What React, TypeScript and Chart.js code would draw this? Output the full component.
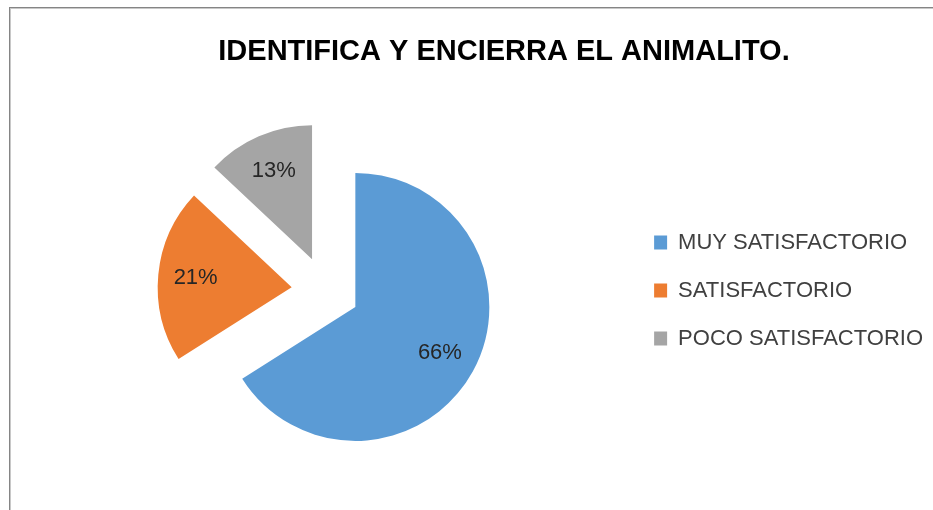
import React, { useEffect, useRef } from "react";
import { Chart, registerables } from "chart.js";

Chart.register(...registerables);

const TITLE = "IDENTIFICA Y ENCIERRA EL ANIMALITO.";
const categories = ["MUY SATISFACTORIO", "SATISFACTORIO", "POCO SATISFACTORIO"];
const values = [66, 21, 13];
const colors = ["#5B9BD5", "#ED7D31", "#A5A5A5"];

const EXPLODE = 34;
const LABEL_FRACTION = 0.72;
const TEXT_FONT = "'Liberation Sans', Arial, sans-serif";

// Draws each slice pushed outward along its bisector (Excel-style "exploded" pie).
const explodePlugin = {
  id: "explodeSlices",
  beforeDatasetDraw(chart: any, args: any) {
    const ctx = chart.ctx;
    args.meta.data.forEach((arc: any) => {
      const mid = (arc.startAngle + arc.endAngle) / 2;
      ctx.save();
      ctx.translate(Math.cos(mid) * EXPLODE, Math.sin(mid) * EXPLODE);
      arc.draw(ctx);
      ctx.restore();
    });
    return false;
  },
};

const labelPlugin = {
  id: "sliceLabels",
  afterDatasetsDraw(chart: any) {
    const ctx = chart.ctx;
    const meta = chart.getDatasetMeta(0);
    const data = chart.data.datasets[0].data;
    ctx.save();
    ctx.font = `22px ${TEXT_FONT}`;
    ctx.fillStyle = "#262626";
    ctx.textAlign = "center";
    ctx.textBaseline = "middle";
    meta.data.forEach((arc: any, i: number) => {
      const mid = (arc.startAngle + arc.endAngle) / 2;
      const d = EXPLODE + arc.outerRadius * LABEL_FRACTION;
      ctx.fillText(`${data[i]}%`, arc.x + Math.cos(mid) * d, arc.y + Math.sin(mid) * d);
    });
    ctx.restore();
  },
};

// Title centred on the whole chart frame (the frame is wider than the visible crop).
const titlePlugin = {
  id: "frameTitle",
  afterDraw(chart: any) {
    const ctx = chart.ctx;
    ctx.save();
    ctx.font = `bold 29px ${TEXT_FONT}`;
    ctx.fillStyle = "#000000";
    ctx.textAlign = "center";
    ctx.textBaseline = "middle";
    ctx.fillText(TITLE, chart.width / 2, 52);
    ctx.restore();
  },
};

export default function App() {
  const ref = useRef<HTMLCanvasElement | null>(null);
  useEffect(() => {
    if (!ref.current) return;
    const chart = new Chart(ref.current, {
      type: "pie",
      data: {
        labels: categories,
        datasets: [
          {
            data: values,
            backgroundColor: colors,
            borderWidth: 0,
            hoverOffset: 0,
          },
        ],
      },
      options: {
        responsive: false,
        animation: false,
        radius: 134,
        layout: { padding: { left: 23, right: 75, top: 100, bottom: 29 } },
        plugins: {
          title: { display: false },
          legend: {
            display: true,
            position: "right",
            fullSize: false,
            labels: {
              boxWidth: 13,
              boxHeight: 14,
              padding: 26,
              color: "#404040",
              font: { family: TEXT_FONT, size: 22 },
            },
          },
          tooltip: { enabled: false },
        },
      } as any,
      plugins: [explodePlugin, labelPlugin, titlePlugin],
    });
    return () => chart.destroy();
  }, []);

  return (
    <div
      style={{
        position: "absolute",
        left: 0,
        top: 0,
        width: 933,
        height: 510,
        overflow: "hidden",
        background: "#ffffff",
      }}
    >
      <div
        style={{
          position: "absolute",
          left: 9,
          top: 7,
          width: 1100,
          height: 1100,
          borderLeft: "1px solid #858585",
          borderTop: "1px solid #858585",
          boxShadow: "inset 1px 1px 0 #c8c8c8",
        }}
      />
      <canvas
        ref={ref}
        width={1008}
        height={510}
        style={{ position: "absolute", left: 0, top: 0 }}
      />
    </div>
  );
}
